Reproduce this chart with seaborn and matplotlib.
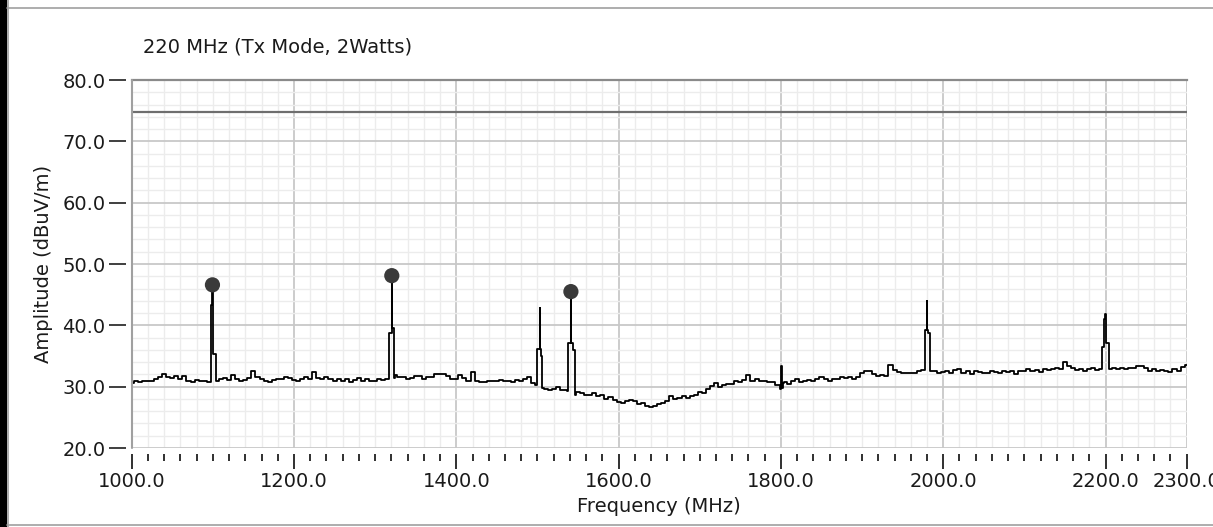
import numpy as np
import pandas as pd
import matplotlib
matplotlib.use("Agg")
import matplotlib.pyplot as plt
import seaborn as sns
from matplotlib.ticker import MultipleLocator, FixedLocator, FormatStrFormatter
from matplotlib.patches import Rectangle
from matplotlib.lines import Line2D

# noise floor, sampled every 5 MHz from 1000 to 2300
freq = np.arange(1000, 2301, 5)
amp = [
    30.6, 30.9, 30.8, 31.0, 31.0, 30.9, 31.2, 31.5, 32.0, 31.6, 31.4, 31.8, 31.2, 31.7, 31.0, 30.7, 31.1, 30.9, 31.0, 30.8,
    30.8, 31.0, 31.2, 31.4, 31.1, 31.9, 31.3, 31.0, 31.1, 31.4, 32.5, 31.6, 31.3, 31.0, 30.8, 31.1, 31.3, 31.2, 31.6, 31.4,
    31.1, 31.0, 31.3, 31.5, 31.3, 32.4, 31.4, 31.3, 31.6, 31.2, 30.9, 31.2, 31.0, 31.3, 30.8, 31.1, 31.4, 31.0, 31.2, 31.0,
    31.0, 31.2, 31.1, 31.2, 31.3, 31.9, 31.5, 31.6, 31.2, 31.4, 31.8, 31.7, 31.3, 31.5, 31.6, 32.1, 32.0, 32.0, 31.8, 31.3,
    31.2, 31.9, 31.4, 31.0, 32.4, 31.0, 30.8, 30.7, 30.9, 31.0, 30.9, 31.1, 31.0, 31.0, 30.8, 31.1, 30.9, 31.2, 31.5, 30.6,
    30.2, 29.8, 29.7, 29.5, 29.6, 29.9, 29.4, 29.5, 29.3, 29.0, 29.2, 28.9, 28.6, 28.7, 28.9, 28.4, 28.6, 28.0, 28.3, 27.9,
    27.5, 27.3, 27.7, 27.9, 27.6, 27.2, 27.4, 26.9, 26.7, 26.8, 27.2, 27.3, 27.6, 28.5, 28.0, 28.2, 28.4, 28.2, 28.5, 28.7,
    29.2, 29.0, 29.6, 30.1, 30.6, 30.0, 30.3, 30.5, 30.4, 30.9, 30.7, 31.1, 31.9, 31.0, 31.2, 30.9, 31.0, 30.8, 30.7, 30.2,
    30.2, 30.7, 30.5, 31.0, 31.2, 30.8, 31.0, 31.1, 30.9, 31.2, 31.5, 31.2, 31.0, 31.3, 31.2, 31.5, 31.4, 31.6, 31.2, 31.5,
    32.3, 32.5, 32.6, 32.0, 31.8, 31.9, 31.8, 33.6, 32.7, 32.4, 32.3, 32.2, 32.3, 32.3, 32.5, 32.7, 32.6, 32.6, 32.5, 32.2,
    32.4, 32.5, 32.3, 32.7, 32.9, 32.3, 32.5, 32.1, 32.6, 32.4, 32.3, 32.2, 32.5, 32.4, 32.2, 32.6, 32.4, 32.5, 32.1, 32.6,
    32.5, 32.8, 32.6, 32.7, 32.4, 32.8, 32.7, 32.9, 33.1, 32.9, 34.0, 33.3, 33.0, 32.7, 32.8, 32.6, 32.9, 33.0, 32.7, 32.8,
    33.0, 32.9, 33.0, 32.8, 33.0, 32.9, 33.0, 33.1, 33.4, 33.3, 33.0, 32.6, 32.8, 32.5, 32.7, 32.6, 32.4, 32.8, 32.6, 33.2, 33.5,
]

# emission spikes (point sequences, drawn into the trace)
spike_1100_f = [1097.5, 1097.5, 1099.2, 1099.5, 1099.8, 1100.5, 1100.5, 1103.5, 1103.5]
spike_1100_a = [30.8, 43.3, 43.3, 46.6, 43.3, 43.3, 35.3, 35.3, 30.9]
spike_1320_f = [1317.5, 1317.5, 1320.3, 1320.5, 1320.7, 1323.0, 1323.0]
spike_1320_a = [31.3, 38.7, 38.7, 48.1, 39.6, 39.6, 31.4]
spike_1500_f = [1499.0, 1499.0, 1502.5, 1502.8, 1503.1, 1504.0, 1504.0, 1506.0, 1506.0]
spike_1500_a = [30.3, 36.2, 36.2, 42.9, 36.2, 36.2, 35.0, 35.0, 29.8]
spike_1540_f = [1538.0, 1538.0, 1541.0, 1541.2, 1541.4, 1543.5, 1543.5, 1546.0, 1546.0]
spike_1540_a = [29.3, 37.1, 37.1, 45.5, 37.1, 37.1, 36.0, 36.0, 28.7]
spike_1800_f = [1798.0, 1799.5, 1800.5, 1801.5, 1802.5]
spike_1800_a = [30.2, 29.7, 33.4, 29.8, 30.6]
spike_1980_f = [1977.5, 1977.5, 1979.5, 1979.7, 1979.9, 1981.5, 1981.5, 1983.7, 1983.7]
spike_1980_a = [32.7, 39.3, 39.3, 43.9, 39.3, 39.3, 38.7, 38.7, 32.5]
spike_2200_f = [2195.5, 2195.5, 2198.0, 2198.0, 2200.5, 2201.0, 2201.0, 2204.0, 2204.0]
spike_2200_a = [32.8, 36.5, 36.5, 41.0, 41.9, 41.0, 37.1, 37.1, 33.0]

# marked peaks
peak_freq = [1099.5, 1320.5, 1541.2]
peak_amp = [46.6, 48.1, 45.5]

limit_level = 74.8

xticks = [1000, 1200, 1400, 1600, 1800, 2000, 2200, 2300]

spikes = [(spike_1100_f, spike_1100_a), (spike_1320_f, spike_1320_a),
          (spike_1500_f, spike_1500_a), (spike_1540_f, spike_1540_a),
          (spike_1800_f, spike_1800_a), (spike_1980_f, spike_1980_a),
          (spike_2200_f, spike_2200_a)]

# merge spikes into the noise floor trace
keep = np.ones(len(freq), bool)
for sf, sa in spikes:
    keep &= ~((freq > sf[0]) & (freq < sf[-1]))
pts = [(f, 0, a) for f, a, k in zip(freq, amp, keep) if k]
for sf, sa in spikes:
    for j, (f, a) in enumerate(zip(sf, sa)):
        pts.append((f, j, a))
pts.sort(key=lambda p: (p[0], p[1]))
df = pd.DataFrame({"freq": [p[0] for p in pts], "amp": [p[2] for p in pts]})

sns.set_style("white")
plt.rcParams['font.family'] = ['DejaVu Sans']

W, H = 1213, 527
fig = plt.figure(figsize=(W / 100, H / 100), dpi=100)
ax = fig.add_axes([131.7 / W, 1 - 448 / H, 1055 / W, 368 / H])

sns.lineplot(data=df, x="freq", y="amp", sort=False, estimator=None,
             color="black", lw=1.3, drawstyle="steps-mid", legend=False, ax=ax)
sns.scatterplot(x=peak_freq, y=peak_amp, s=120, color="#3a3a3a",
                edgecolor="none", zorder=5, legend=False, ax=ax)
ax.axhline(limit_level, color="#6e6e6e", lw=1.6, zorder=3)
ax.axvline(1000, color="#a0a0a0", lw=1.5, clip_on=False, zorder=3)

ax.set_xlim(1000, 2300)
ax.set_ylim(20, 80)
ax.xaxis.set_major_locator(FixedLocator(xticks))
ax.xaxis.set_minor_locator(MultipleLocator(20))
ax.yaxis.set_major_locator(MultipleLocator(10))
ax.yaxis.set_minor_locator(MultipleLocator(2))
ax.xaxis.set_major_formatter(FormatStrFormatter("%.1f"))
ax.yaxis.set_major_formatter(FormatStrFormatter("%.1f"))

ax.set_axisbelow(True)
ax.grid(which="major", color="#c8c8c8", lw=1.3)
ax.grid(which="minor", color="#ececec", lw=1.0)
ax.xaxis.get_major_ticks()[-1].gridline.set_visible(False)
ax.yaxis.get_major_ticks()[0].gridline.set_visible(False)

for s in ["left", "right", "bottom"]:
    ax.spines[s].set_visible(False)
ax.spines["top"].set_color("#8a8a8a")
ax.spines["top"].set_linewidth(1.6)
ax.spines["left"].set_position(("outward", 4))
ax.spines["bottom"].set_position(("outward", 4))

ax.tick_params(which="both", bottom=True, left=True, top=False, right=False)
ax.tick_params(axis="y", which="major", direction="out", length=12, width=1.3,
               color="#303030", pad=3, labelsize=14, labelcolor="#1a1a1a")
ax.tick_params(axis="y", which="minor", left=False, length=0)
ax.tick_params(axis="x", which="major", direction="out", length=11, width=1.4,
               color="#303030", pad=2, labelsize=14, labelcolor="#1a1a1a")
ax.tick_params(axis="x", which="minor", direction="out", length=5, width=1.4,
               color="#303030")

ax.set_xlabel("Frequency (MHz)", fontsize=14, color="#1a1a1a", va="center")
ax.xaxis.set_label_coords(0.5, (448 - 506) / 368)
ax.set_ylabel("Amplitude (dBuV/m)", fontsize=14, color="#1a1a1a", va="center")
ax.yaxis.set_label_coords((44 - 131.7) / 1055, 0.5)

fig.text(143 / W, 1 - 47 / H, "220 MHz (Tx Mode, 2Watts)", fontsize=14,
         color="#1a1a1a", ha="left", va="center")

# window frame around the chart
fig.add_artist(Rectangle((0, 0), 6.5 / W, 1, transform=fig.transFigure,
                         color="black", lw=0))
fig.add_artist(Line2D([7.5 / W, 7.5 / W], [0, 1], color="#a0a0a0", lw=1.2))
fig.add_artist(Line2D([7 / W, 1], [1 - 7.5 / H, 1 - 7.5 / H], color="#a0a0a0", lw=1.2))
fig.add_artist(Line2D([7 / W, 1], [1 - 525 / H, 1 - 525 / H], color="#a0a0a0", lw=1.2))

fig.savefig("out.png", dpi=100)
